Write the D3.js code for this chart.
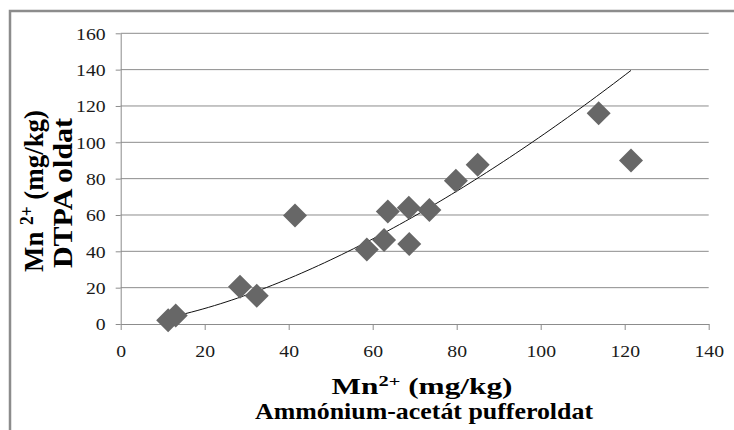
<!DOCTYPE html>
<html>
<head>
<meta charset="utf-8">
<script src="https://cdn.jsdelivr.net/npm/d3@7/dist/d3.min.js"></script>
<style>
  body { margin: 0; background: #fff; }
  svg { display: block; }
  svg text { font-family: "Liberation Serif", "Times New Roman", serif; }
</style>
</head>
<body>
<svg id="chart"></svg>
<script>
// Mn2+ (mg/kg) measured with two extractants
const ammoniumAcetate = [11.3, 13.1, 28.4, 32.4, 41.5, 58.6, 62.7, 63.6, 68.6, 68.7, 73.5, 79.8, 85.0, 113.8, 121.5];
const dtpa = [2.1, 4.7, 20.5, 15.5, 59.7, 41.0, 46.3, 61.9, 64.0, 44.0, 62.8, 78.8, 87.6, 116.0, 90.0];
const xTicks = [0, 20, 40, 60, 80, 100, 120, 140];
const yTicks = [0, 20, 40, 60, 80, 100, 120, 140, 160];

const width = 734;
const height = 430;

const svg = d3.select("#chart")
    .attr("width", width)
    .attr("height", height);

const xScale = d3.scaleLinear().domain([0, 140]).range([120.7, 708.7]);
const yScale = d3.scaleLinear().domain([0, 160]).range([324, 33.3]);

const points = ammoniumAcetate.map((x, i) => ({ x: x, y: dtpa[i] }));

// power trendline y = a * x^b, least squares on logs (like Excel)
const lx = points.map(d => Math.log(d.x));
const ly = points.map(d => Math.log(d.y));
const mx = d3.mean(lx), my = d3.mean(ly);
const b = d3.sum(lx, (v, i) => (v - mx) * (ly[i] - my)) / d3.sum(lx, v => (v - mx) * (v - mx));
const a = Math.exp(my - b * mx);
const [minX, maxX] = d3.extent(ammoniumAcetate);
const trend = d3.range(0, 81).map(i => {
    const x = minX + (maxX - minX) * i / 80;
    return { x: x, y: a * Math.pow(x, b) };
});

const gray = "#8c8c8c";

// outer chart frame (cut off at the right and bottom)
svg.append("rect")
    .attr("x", 10).attr("y", 11)
    .attr("width", 800).attr("height", 500)
    .attr("fill", "none")
    .attr("stroke", gray)
    .attr("stroke-width", 2.5);

// gridlines
svg.append("g")
    .selectAll("line")
    .data(yTicks.filter(t => t > 0))
    .enter().append("line")
    .attr("x1", xScale(0)).attr("x2", xScale(140))
    .attr("y1", d => yScale(d)).attr("y2", d => yScale(d))
    .attr("stroke", gray)
    .attr("stroke-width", 1);

// axes
const xAxis = svg.append("g")
    .attr("transform", `translate(0, ${yScale(0)})`)
    .call(d3.axisBottom(xScale).tickValues(xTicks).tickSize(6).tickSizeOuter(0));

const yAxis = svg.append("g")
    .attr("transform", `translate(${xScale(0)}, 0)`)
    .call(d3.axisLeft(yScale).tickValues(yTicks).tickSize(5).tickSizeOuter(0));

[xAxis, yAxis].forEach(g => {
    g.attr("font-family", null);
    g.select(".domain").attr("stroke", gray);
    g.selectAll(".tick line").attr("stroke", gray);
    g.selectAll("text")
        .attr("font-size", 17)
        .attr("fill", "#1a1a1a");
});

xAxis.selectAll("text")
    .attr("y", 33)
    .attr("dy", 0)
    .attr("transform", "scale(1.16,1)");

yAxis.selectAll("text")
    .attr("x", -13)
    .attr("dy", "0.34em")
    .attr("transform", "scale(1.16,1)");

// trendline
svg.append("path")
    .datum(trend)
    .attr("fill", "none")
    .attr("stroke", "#111")
    .attr("stroke-width", 1)
    .attr("d", d3.line().x(d => xScale(d.x)).y(d => yScale(d.y)));

// diamonds
svg.append("g")
    .selectAll("path")
    .data(points)
    .enter().append("path")
    .attr("d", d3.symbol(d3.symbolSquare).size(288))
    .attr("transform", d => `translate(${xScale(d.x)},${yScale(d.y)}) rotate(45)`)
    .attr("fill", "#676767");

// x axis title
const xt1 = svg.append("text")
    .attr("x", 422).attr("y", 394)
    .attr("text-anchor", "middle")
    .attr("font-weight", "bold")
    .attr("font-size", 23)
    .attr("textLength", 181)
    .attr("lengthAdjust", "spacingAndGlyphs");
xt1.append("tspan").text("Mn");
xt1.append("tspan").attr("font-size", 15).attr("dy", -8).text("2+");
xt1.append("tspan").attr("dy", 8).text(" (mg/kg)");

svg.append("text")
    .attr("x", 424).attr("y", 419)
    .attr("text-anchor", "middle")
    .attr("font-weight", "bold")
    .attr("font-size", 23)
    .attr("textLength", 338)
    .attr("lengthAdjust", "spacingAndGlyphs")
    .text("Ammónium-acetát pufferoldat");

// y axis title
const yt1 = svg.append("text")
    .attr("transform", "translate(43,191) rotate(-90)")
    .attr("text-anchor", "middle")
    .attr("font-weight", "bold")
    .attr("font-size", 28)
    .attr("textLength", 162)
    .attr("lengthAdjust", "spacingAndGlyphs");
yt1.append("tspan").text("Mn ");
yt1.append("tspan").attr("font-size", 18).attr("dy", -10).text("2+");
yt1.append("tspan").attr("dy", 10).text(" (mg/kg)");

svg.append("text")
    .attr("transform", "translate(72,193) rotate(-90)")
    .attr("text-anchor", "middle")
    .attr("font-weight", "bold")
    .attr("font-size", 28)
    .attr("textLength", 150)
    .attr("lengthAdjust", "spacingAndGlyphs")
    .text("DTPA oldat");
</script>
</body>
</html>
